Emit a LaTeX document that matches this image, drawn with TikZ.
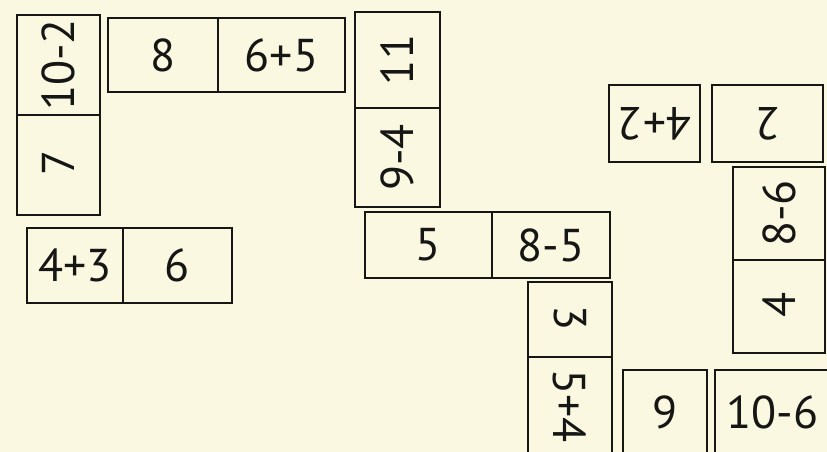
\documentclass[tikz,border=0pt]{standalone}
\usepackage{fontspec}
\setmainfont{PT Sans}
\usepackage{graphicx}
\definecolor{paper}{HTML}{FBF8E2}
\definecolor{ink}{HTML}{161614}
\newcommand{\rotnum}[2]{\rotatebox[origin=c]{#1}{#2}}

\begin{document}
\begin{tikzpicture}[x=1pt, y=-1pt,
  cell/.style={draw=ink, line width=2.8pt, inner sep=0pt, text=ink,
    font=\fontsize{46}{46}\selectfont},
  sz/.style 2 args={minimum width=#1, minimum height=#2}]
  \fill[paper] (0,0) rectangle (827,452);
  \clip (0,0) rectangle (827,452);
  \node[cell, sz={83}{100}] (a1) at (58.5,65)    {\rotnum{90}{10-2}};
  \node[cell, sz={83}{100}] (a2) at (58.5,165)   {\rotnum{90}{7}};
  \node[cell, sz={110}{74}] (b1) at (163,55)     {8};
  \node[cell, sz={127}{74}] (b2) at (281.5,55)   {6+5};
  \node[cell, sz={85}{96}]  (c1) at (397.5,60)   {\rotnum{90}{11}};
  \node[cell, sz={85}{99}]  (c2) at (397.5,157.5) {\rotnum{90}{9-4}};
  \node[cell, sz={91}{77}]  (d1) at (654.5,123.5) {\rotnum{180}{4+2}};
  \node[cell, sz={111}{77}] (d2) at (767.5,123.5) {\rotnum{180}{2}};
  \node[cell, sz={92}{93}]  (e1) at (779,213.5)  {\rotnum{90}{8-6}};
  \node[cell, sz={92}{93}]  (e2) at (779,306.5)  {\rotnum{90}{4}};
  \node[cell, sz={127}{66}] (f1) at (428.5,245)  {5};
  \node[cell, sz={118}{66}] (f2) at (551,245)    {8-5};
  \node[cell, sz={84}{75}]  (g1) at (570,319.5)  {\rotnum{-90}{3}};
  \node[cell, sz={84}{98}]  (g2) at (570,406)    {\rotnum{-90}{5+4}};
  \node[cell, sz={84}{85}]  (h1) at (665,412.5)  {9};
  \node[cell, sz={115}{85}] (h2) at (772.5,412.5) {10-6};
  \node[cell, sz={96}{75}]  (i1) at (75,265.5)   {4+3};
  \node[cell, sz={109}{75}] (i2) at (177.5,265.5) {6};
\end{tikzpicture}
\end{document}
